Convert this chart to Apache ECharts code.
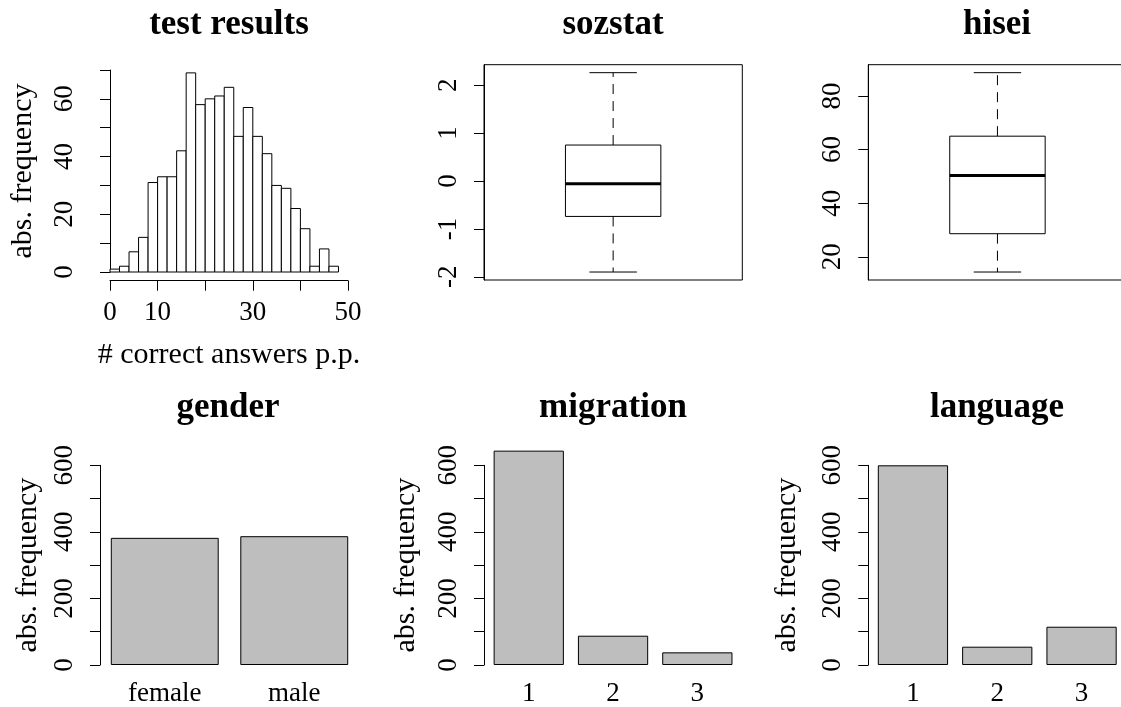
<!DOCTYPE html>
<html><head><meta charset="utf-8">
<script src="https://cdn.jsdelivr.net/npm/echarts@6/dist/echarts.min.js"></script>
<style>html,body{margin:0;padding:0;background:#fff}#c{width:1121px;height:707px}</style>
</head><body><div id="c"></div>
<script>
// ---- data ----
const titles = ['test results', 'sozstat', 'hisei', 'gender', 'migration', 'language'];
const histBreaks = [0,2,4,6,8,10,12,14,16,18,20,22,24,26,28,30,32,34,36,38,40,42,44,46,48];
const histCounts = [1,2,7,12,31,33,33,42,69,58,60,61,64,47,57,47,41,30,29,22,15,2,8,2];
const histXTicks = [0,10,20,30,40,50];
const histXLabels = [0,10,30,50];
const histYTicks = [0,10,20,30,40,50,60,70];
const histYLabels = [0,20,40,60];
// boxplot stats: lower whisker, Q1, median, Q3, upper whisker
const sozstatStats = [-1.90, -0.74, -0.06, 0.75, 2.26];
const sozstatTicks = [-2,-1,0,1,2];
const hiseiStats = [14.3, 28.6, 50.3, 65.0, 88.7];
const hiseiTicks = [20,40,60,80];
const genderCats = ['female', 'male'];
const genderCounts = [382, 387];
const migrationCats = ['1', '2', '3'];
const migrationCounts = [644, 88, 38];
const languageCats = ['1', '2', '3'];
const languageCounts = [600, 55, 115];
const barYTicks = [0,100,200,300,400,500,600];
const barYLabels = [0,200,400,600];
const yName = 'abs. frequency';
const xNameHist = '# correct answers p.p.';

// ---- styling ----
const FONT = "'Liberation Serif', 'Times New Roman', serif";
const TICK_FS = 27, NAME_FS = 30, TITLE_FS = 35;
const BLACK = '#000';

function ext(stats){ const lo=Math.min(...stats), hi=Math.max(...stats), d=(hi-lo)*0.04; return [lo-d, hi+d]; }
const sozR = ext(sozstatStats), hisR = ext(hiseiStats);

const lineStyle = {color: BLACK, width: 1};
const labelBase = {color: BLACK, fontFamily: FONT, fontSize: TICK_FS};
const nameStyle = {color: BLACK, fontFamily: FONT, fontSize: NAME_FS};

function yAxisBase(gi, extra){
  return Object.assign({
    type: 'value', gridIndex: gi,
    axisLine: {show: true, lineStyle},
    axisTick: {show: true, length: 10, lineStyle},
    axisLabel: Object.assign({rotate: 90, margin: 22}, labelBase),
    splitLine: {show: false}
  }, extra);
}
function barY(gi, offset, gap){
  return yAxisBase(gi, {
    min: 0, max: 600, interval: 100, offset: offset,
    axisLabel: Object.assign({rotate: 90, margin: 22, formatter: v => barYLabels.includes(v) ? String(v) : ''}, labelBase),
    name: yName, nameLocation: 'middle', nameGap: gap, nameTextStyle: nameStyle
  });
}
function catX(gi, cats){
  return {type: 'category', gridIndex: gi, data: cats,
    axisLine: {show: false}, axisTick: {show: false},
    axisLabel: Object.assign({margin: 15}, labelBase), splitLine: {show: false}};
}
function barSeries(i, data){
  return {type: 'bar', xAxisIndex: i, yAxisIndex: i, data: data, clip: false,
    barCategoryGap: '16.67%',
    itemStyle: {color: '#BEBEBE', borderColor: BLACK, borderWidth: 1}};
}

function histRender(params, api){
  const p0 = api.coord([api.value(0), api.value(2)]);
  const p1 = api.coord([api.value(1), 0]);
  return {type: 'rect', shape: {x: p0[0], y: p0[1], width: p1[0]-p0[0], height: p1[1]-p0[1]},
    style: {fill: '#fff', stroke: BLACK, lineWidth: 1}};
}
function boxRender(params, api){
  const cx = api.value(0);
  const mn = api.value(1), q1 = api.value(2), md = api.value(3), q3 = api.value(4), mx = api.value(5);
  const hw = 0.1847, cw = 0.0918;
  const c = (x, y) => api.coord([x, y]);
  const ln = (p, q, style) => ({type: 'line', shape: {x1: p[0], y1: p[1], x2: q[0], y2: q[1]}, style});
  const solid = {stroke: BLACK, lineWidth: 1};
  const dashed = {stroke: BLACK, lineWidth: 1, lineDash: [10, 7]};
  const A = c(cx - hw, q3), B = c(cx + hw, q1);
  return {type: 'group', children: [
    ln(c(cx, q3), c(cx, mx), dashed),
    ln(c(cx, q1), c(cx, mn), dashed),
    ln(c(cx - cw, mx), c(cx + cw, mx), solid),
    ln(c(cx - cw, mn), c(cx + cw, mn), solid),
    {type: 'rect', shape: {x: A[0], y: A[1], width: B[0]-A[0], height: B[1]-A[1]}, style: {fill: '#fff', stroke: BLACK, lineWidth: 1}},
    ln(c(cx - hw, md), c(cx + hw, md), {stroke: BLACK, lineWidth: 3})
  ]};
}

const titleX = [229, 613, 997, 228, 613, 997];
const titleY = [24.5, 24.5, 24.5, 408.3, 408.3, 408.3];

const option = {
  animation: false,
  backgroundColor: '#fff',
  grid: [
    {left: 110, top: 70, width: 238, height: 202, outerBoundsMode: 'none'},
    {left: 484, top: 64.7, width: 258.3, height: 215.3, show: true, borderColor: BLACK, borderWidth: 1, outerBoundsMode: 'none'},
    {left: 868.3, top: 64.7, width: 258.3, height: 215.3, show: true, borderColor: BLACK, borderWidth: 1, outerBoundsMode: 'none'},
    {left: 100, top: 465.3, width: 259, height: 199.7, outerBoundsMode: 'none'},
    {left: 486.6, top: 465.3, width: 252.9, height: 199.7, outerBoundsMode: 'none'},
    {left: 870.8, top: 465.3, width: 252.9, height: 199.7, outerBoundsMode: 'none'}
  ],
  xAxis: [
    {type: 'value', gridIndex: 0, min: 0, max: 50, interval: 10, offset: 8.7,
      axisLine: {show: true, onZero: false, lineStyle}, axisTick: {show: true, length: 10, lineStyle},
      axisLabel: Object.assign({margin: 18.5, formatter: v => histXLabels.includes(v) ? String(v) : ''}, labelBase),
      splitLine: {show: false},
      name: xNameHist, nameLocation: 'middle', nameGap: 59, nameTextStyle: nameStyle},
    {type: 'value', gridIndex: 1, min: 0, max: 1, show: false},
    {type: 'value', gridIndex: 2, min: 0, max: 1, show: false},
    catX(3, genderCats), catX(4, migrationCats), catX(5, languageCats)
  ],
  yAxis: [
    yAxisBase(0, {min: 0, max: 70, interval: 10, offset: 10,
      axisLabel: Object.assign({rotate: 90, margin: 22, formatter: v => histYLabels.includes(v) ? String(v) : ''}, labelBase),
      name: yName, nameLocation: 'middle', nameGap: 62, nameTextStyle: nameStyle}),
    yAxisBase(1, {min: sozR[0], max: sozR[1],
      axisTick: {show: true, length: 10, lineStyle, customValues: sozstatTicks},
      axisLabel: Object.assign({rotate: 90, margin: 22, customValues: sozstatTicks}, labelBase)}),
    yAxisBase(2, {min: hisR[0], max: hisR[1],
      axisTick: {show: true, length: 10, lineStyle, customValues: hiseiTicks},
      axisLabel: Object.assign({rotate: 90, margin: 22, customValues: hiseiTicks}, labelBase)}),
    barY(3, 0, 57), barY(4, 2.6, 63), barY(5, 2.5, 66)
  ],
  series: [
    {type: 'custom', xAxisIndex: 0, yAxisIndex: 0, renderItem: histRender,
      data: histCounts.map((c, i) => [histBreaks[i], histBreaks[i+1], c]), encode: {x: [0, 1], y: 2}},
    {type: 'custom', xAxisIndex: 1, yAxisIndex: 1, renderItem: boxRender,
      data: [[0.5].concat(sozstatStats)], encode: {x: 0, y: [1,2,3,4,5]}},
    {type: 'custom', xAxisIndex: 2, yAxisIndex: 2, renderItem: boxRender,
      data: [[0.5].concat(hiseiStats)], encode: {x: 0, y: [1,2,3,4,5]}},
    barSeries(3, genderCounts), barSeries(4, migrationCounts), barSeries(5, languageCounts)
  ],
  graphic: titles.map((t, i) => ({type: 'text', x: titleX[i], y: titleY[i],
    style: {text: t, fontFamily: FONT, fontSize: TITLE_FS, fontWeight: 'bold', fill: BLACK, align: 'center', verticalAlign: 'middle'}}))
};
const chart = echarts.init(document.getElementById('c'));
chart.setOption(option);
</script>
</body></html>
